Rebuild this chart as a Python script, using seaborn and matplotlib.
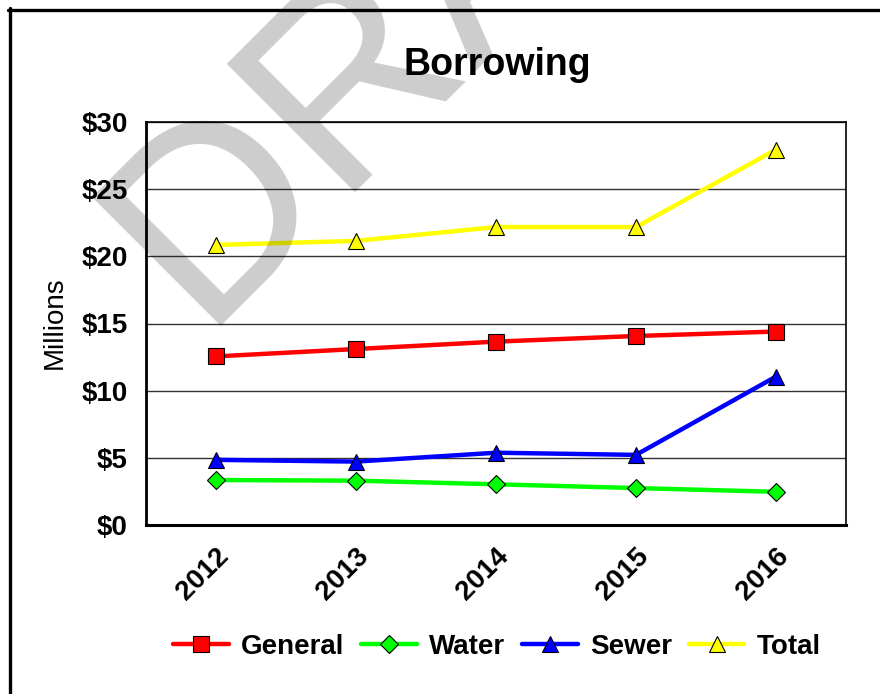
import pandas as pd
import numpy as np
import matplotlib
matplotlib.use('Agg')
import matplotlib.pyplot as plt
import seaborn as sns
from matplotlib.lines import Line2D
from matplotlib.transforms import ScaledTranslation

# Data (millions of dollars)
years = ['2012', '2013', '2014', '2015', '2016']
general = [12.55, 13.10, 13.65, 14.07, 14.40]
water = [3.35, 3.30, 3.03, 2.75, 2.47]
sewer = [4.85, 4.72, 5.38, 5.22, 11.05]
total = [20.85, 21.15, 22.18, 22.18, 27.95]

series_names = ['General', 'Water', 'Sewer', 'Total']
series_values = [general, water, sewer, total]

rows = []
for name, vals in zip(series_names, series_values):
    for i, v in enumerate(vals):
        rows.append({'pos': i, 'Year': years[i], 'Series': name, 'Value': v})
df = pd.DataFrame(rows)

#########################################################################################################################

# Style
sns.set_style('white')
plt.rcParams['font.family'] = ['Liberation Sans', 'DejaVu Sans']
plt.rcParams['text.color'] = 'black'
plt.rcParams['xtick.color'] = 'black'
plt.rcParams['ytick.color'] = 'black'
plt.rcParams['axes.labelcolor'] = 'black'

palette = {'General': '#FF0000', 'Water': '#00FF00', 'Sewer': '#0000FF', 'Total': '#FFFF00'}
markers = {'General': 's', 'Water': 'D', 'Sewer': '^', 'Total': '^'}
msizes = {'General': 11, 'Water': 9, 'Sewer': 12, 'Total': 12}

#########################################################################################################################

fig = plt.figure(figsize=(8.8, 6.94), dpi=100)
ax = fig.add_axes([146 / 880, 1 - 525 / 694, 700 / 880, 403 / 694])

for name in series_names:
    sub = df[df['Series'] == name]
    sns.lineplot(data=sub, x='pos', y='Value', ax=ax, color=palette[name], marker=markers[name],
                 markersize=msizes[name], markeredgecolor='black', markeredgewidth=0.8,
                 linewidth=3.2, label=name, zorder=3)

ax.set_xlim(-0.5, len(years) - 0.5)
ax.set_ylim(0, 30)
ax.set_xticks(range(len(years)))
ax.set_xticklabels(years, rotation=45, ha='right', va='center', rotation_mode='anchor',
                   fontsize=20, fontweight='bold')
ax.set_yticks(range(0, 31, 5))
ax.set_yticklabels([f'${v}' for v in range(0, 31, 5)], fontsize=20, fontweight='bold')
ax.tick_params(axis='both', length=0)
ax.tick_params(axis='y', pad=13)
ax.tick_params(axis='x', pad=20)
ax.set_xlabel('')
ax.set_ylabel('')

# nudge the rotated year labels a bit to the right
for lbl in ax.get_xticklabels():
    lbl.set_transform(lbl.get_transform() + ScaledTranslation(9 / 100, 0, fig.dpi_scale_trans))

ax.grid(axis='y', color='#333333', linewidth=1.0)
ax.grid(axis='x', visible=False)
for sp in ax.spines.values():
    sp.set_visible(True)
    sp.set_color('black')
    sp.set_linewidth(1.2)
ax.spines['left'].set_linewidth(2)
ax.spines['bottom'].set_linewidth(2.2)

ax.get_legend().remove()

# Title and axis label
fig.text(497 / 880, 1 - 65 / 694, 'Borrowing', ha='center', va='center', fontsize=27, fontweight='bold')
fig.text(55 / 880, 1 - 323 / 694, 'Millions', ha='center', va='center', rotation=90, fontsize=20)

# Legend
handles, labels = ax.get_legend_handles_labels()
fig.legend(handles, labels, loc='center', bbox_to_anchor=(497 / 880, 1 - 647 / 694), ncol=4,
           frameon=False, prop={'size': 20, 'weight': 'bold'}, handlelength=2.0,
           columnspacing=0.6, handletextpad=0.45)

# Border around the figure (top and left edges visible)
fig.add_artist(Line2D([8 / 880, 1], [1 - 9.5 / 694, 1 - 9.5 / 694], color='black', linewidth=2.4,
                      transform=fig.transFigure))
fig.add_artist(Line2D([9.5 / 880, 9.5 / 880], [0, 1 - 8 / 694], color='black', linewidth=2.4,
                      transform=fig.transFigure))

# DRAFT watermark
fig.text(199 / 880, 1 - 326 / 694, 'DRAFT', rotation=45, rotation_mode='anchor', ha='left', va='baseline',
         fontsize=190, color='black', alpha=0.2, zorder=10)

fig.savefig('out.png', dpi=100)
